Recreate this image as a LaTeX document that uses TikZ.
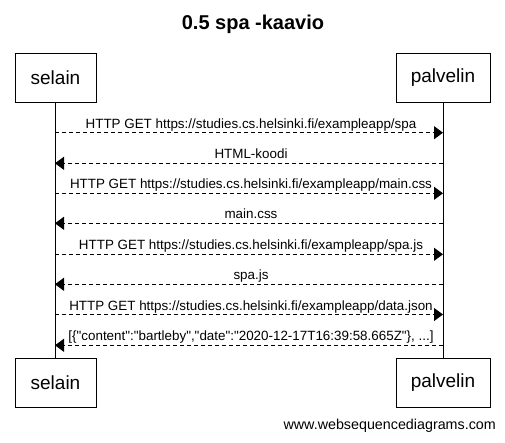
\documentclass[tikz,border=0pt]{standalone}
\usepackage{fontspec}
\setmainfont[Ligatures=TeXReset]{Liberation Sans}
\usetikzlibrary{arrows.meta}
\begin{document}
\begin{tikzpicture}[x=1pt,y=-1pt,
  participant/.style={draw,line width=1pt,minimum height=49pt,inner sep=0pt,font=\fontsize{19}{22}\selectfont},
  lifeline/.style={line width=1pt},
  msg/.style={line width=1pt,dash pattern=on 4pt off 3pt,-{Triangle[length=9pt,width=13pt]}},
  msglabel/.style={anchor=base,inner sep=0pt,font=\fontsize{13.4}{15}\selectfont}]
\useasboundingbox (0,0) rectangle (505,442);
\node[anchor=base,font=\bfseries\fontsize{20}{24}\selectfont] (title) at (253,29) {0.5 spa -kaavio};
\node[participant,minimum width=81pt] (s1) at (55.5,77.5) {selain};
\node[participant,minimum width=94pt] (p1) at (443,77.5) {palvelin};
\node[participant,minimum width=81pt] (s2) at (55.5,382.5) {selain};
\node[participant,minimum width=94pt] (p2) at (443,382.5) {palvelin};
\draw[lifeline] (s1.south) -- (s2.north);
\draw[lifeline] (p1.south) -- (p2.north);
\foreach \i/\y in {1/132.7,2/163.3,3/193.3,4/223.3,5/254.3,6/284.3,7/314.5,8/345.3}{
  \coordinate (sl\i) at (55,\y);
  \coordinate (pl\i) at (443,\y);
}
\draw[msg] (sl1) -- (pl1);
\draw[msg] (pl2) -- (sl2);
\draw[msg] (sl3) -- (pl3);
\draw[msg] (pl4) -- (sl4);
\draw[msg] (sl5) -- (pl5);
\draw[msg] (pl6) -- (sl6);
\draw[msg] (sl7) -- (pl7);
\draw[msg] (pl8) -- (sl8);
\node[msglabel] (l1) at (251,128.2) {HTTP GET https://studies.cs.helsinki.fi/exampleapp/spa};
\node[msglabel] (l2) at (251,158.8) {HTML-koodi};
\node[msglabel] (l3) at (251,188.8) {HTTP GET https://studies.cs.helsinki.fi/exampleapp/main.css};
\node[msglabel] (l4) at (251,218.8) {main.css};
\node[msglabel] (l5) at (251,249.8) {HTTP GET https://studies.cs.helsinki.fi/exampleapp/spa.js};
\node[msglabel] (l6) at (251,279.8) {spa.js};
\node[msglabel] (l7) at (251,310) {HTTP GET https://studies.cs.helsinki.fi/exampleapp/data.json};
\node[msglabel] (l8) at (251,340.8) {[\{"content":"bartleby","date":"2020-12-17T16:39:58.665Z"\}, ...]};
\node[anchor=base east,inner sep=0pt,font=\fontsize{14.3}{17}\selectfont] (foot) at (496,429) {www.websequencediagrams.com};
\end{tikzpicture}
\end{document}
